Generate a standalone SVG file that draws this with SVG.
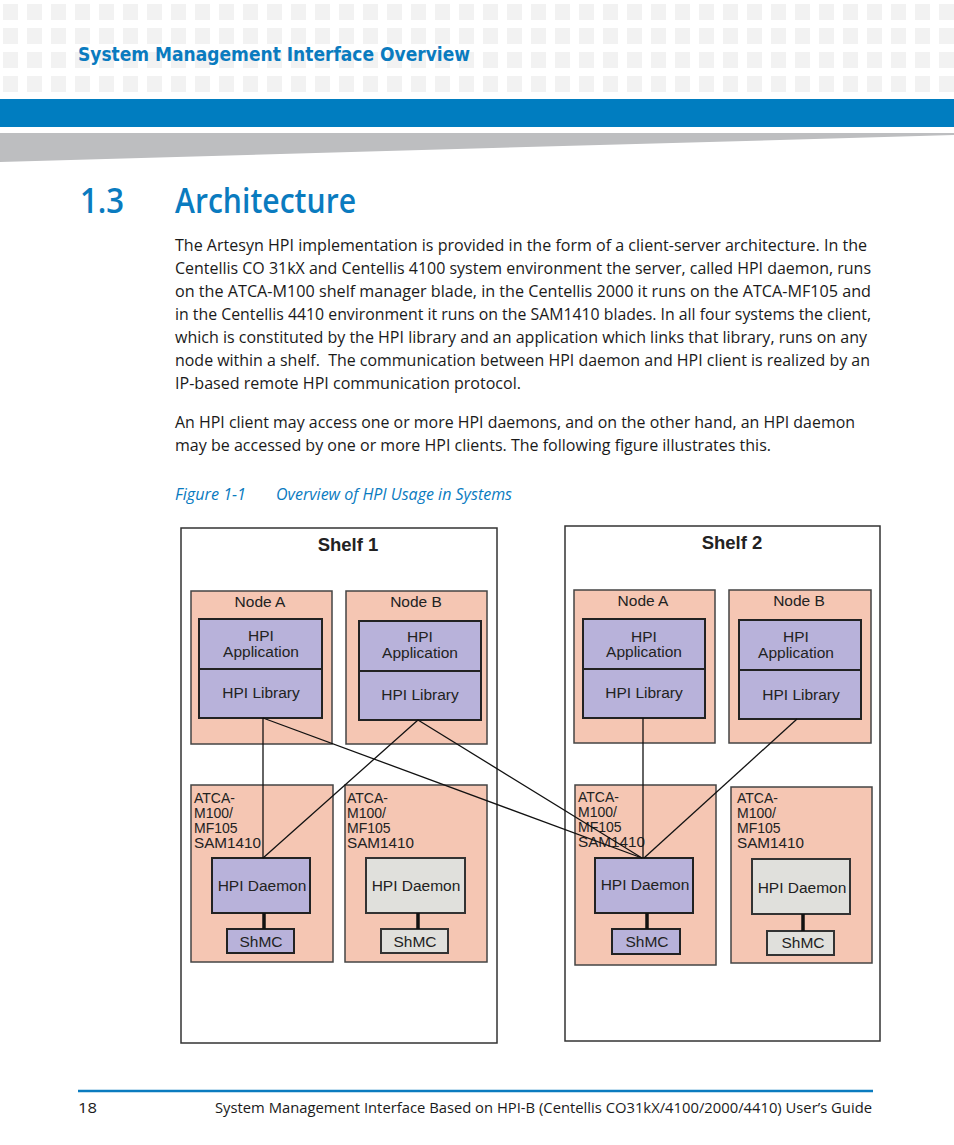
<svg xmlns="http://www.w3.org/2000/svg" width="954" height="1145" viewBox="0 0 954 1145">
<defs>
<pattern id="sq" x="3" y="4" width="24" height="24" patternUnits="userSpaceOnUse">
<rect width="15" height="16" fill="#f2f2f2"/>
</pattern>
<style>
.body{font-family:"Open Sans","Liberation Sans",sans-serif;font-size:16px;fill:#1a1a1a}
.cap{font-family:"Open Sans","Liberation Sans",sans-serif;font-size:16px;font-style:italic;fill:#0a7bbf}
.shelf{fill:#fff;stroke:#333;stroke-width:1.5}
.node{fill:#f5c6b3;stroke:#444;stroke-width:1.5}
.hpi{fill:#b8b2da;stroke:#222;stroke-width:2}
.gray{fill:#e0e0dc;stroke:#333;stroke-width:2}
.t{font-family:"Liberation Sans",Arial,sans-serif;font-size:15.5px;fill:#222;text-anchor:middle}
.tl{font-family:"Liberation Sans",Arial,sans-serif;font-size:14px;fill:#222}
.st{font-family:"Liberation Sans",Arial,sans-serif;font-size:18.5px;font-weight:bold;fill:#222;text-anchor:middle}
.ln{stroke:#111;stroke-width:1.3;fill:none}
.thick{stroke:#111;stroke-width:3.5;fill:none}
</style>
</defs>
<rect width="954" height="1145" fill="#fff"/>
<g id="header">
<rect x="0" y="0" width="954" height="94" fill="url(#sq)"/>
<text x="78" y="61" font-family="DejaVu Sans Condensed,'Liberation Sans',sans-serif" font-weight="bold" font-size="20" fill="#0a7bbf" textLength="392" lengthAdjust="spacingAndGlyphs">System Management Interface Overview</text>
<rect x="0" y="99" width="954" height="28" fill="#007dc0"/>
<polygon points="0,133 954,133 954,135 0,162" fill="#bdbec0"/>
</g>
<g id="title">
<text x="80" y="213" font-family="'Open Sans','Liberation Sans',sans-serif" font-weight="600" font-size="34" fill="#0a7bbf" textLength="44" lengthAdjust="spacingAndGlyphs">1.3</text>
<text x="175" y="213" font-family="'Open Sans','Liberation Sans',sans-serif" font-weight="600" font-size="34" fill="#0a7bbf" textLength="181" lengthAdjust="spacingAndGlyphs">Architecture</text>
</g>
<g id="text">
<text class="body" x="175" y="251" textLength="692" lengthAdjust="spacingAndGlyphs">The Artesyn HPI implementation is provided in the form of a client-server architecture. In the</text>
<text class="body" x="175" y="274" textLength="696" lengthAdjust="spacingAndGlyphs">Centellis CO 31kX and Centellis 4100 system environment the server, called HPI daemon, runs</text>
<text class="body" x="175" y="297" textLength="696" lengthAdjust="spacingAndGlyphs">on the ATCA-M100 shelf manager blade, in the Centellis 2000 it runs on the ATCA-MF105 and</text>
<text class="body" x="175" y="320" textLength="696" lengthAdjust="spacingAndGlyphs">in the Centellis 4410 environment it runs on the SAM1410 blades. In all four systems the client,</text>
<text class="body" x="175" y="343" textLength="692" lengthAdjust="spacingAndGlyphs">which is constituted by the HPI library and an application which links that library, runs on any</text>
<text class="body" x="175" y="366" textLength="695" lengthAdjust="spacingAndGlyphs" xml:space="preserve">node within a shelf.  The communication between HPI daemon and HPI client is realized by an</text>
<text class="body" x="175" y="389" textLength="346" lengthAdjust="spacingAndGlyphs">IP-based remote HPI communication protocol.</text>
<text class="body" x="175" y="428" textLength="680" lengthAdjust="spacingAndGlyphs">An HPI client may access one or more HPI daemons, and on the other hand, an HPI daemon</text>
<text class="body" x="175" y="451" textLength="596" lengthAdjust="spacingAndGlyphs">may be accessed by one or more HPI clients. The following figure illustrates this.</text>
<text class="cap" x="175" y="500" textLength="71" lengthAdjust="spacingAndGlyphs">Figure 1-1</text>
<text class="cap" x="276" y="500" textLength="236" lengthAdjust="spacingAndGlyphs">Overview of HPI Usage in Systems</text>
</g>
<g id="shelf1">
<rect class="shelf" x="181" y="528" width="316" height="515"/>
<text class="st" x="348" y="551">Shelf 1</text>
</g>
<g id="shelf2">
<rect class="shelf" x="565" y="526" width="315" height="515"/>
<text class="st" x="732" y="549">Shelf 2</text>
</g>
<g id="s1-nodeA">
<rect class="node" x="191" y="591" width="141" height="153"/>
<text class="t" x="260" y="607">Node A</text>
<rect class="hpi" x="199" y="619" width="123" height="99"/>
<line x1="199" y1="669" x2="322" y2="669" stroke="#222" stroke-width="2"/>
<text class="t" x="261" y="641">HPI</text>
<text class="t" x="261" y="657">Application</text>
<text class="t" x="261" y="698">HPI Library</text>
</g>
<g id="s1-nodeB">
<rect class="node" x="346" y="591" width="141" height="153"/>
<text class="t" x="416" y="607">Node B</text>
<rect class="hpi" x="359" y="621" width="122" height="99"/>
<line x1="359" y1="671" x2="481" y2="671" stroke="#222" stroke-width="2"/>
<text class="t" x="420" y="642">HPI</text>
<text class="t" x="420" y="658">Application</text>
<text class="t" x="420" y="700">HPI Library</text>
</g>
<g id="s2-nodeA">
<rect class="node" x="574" y="590" width="141" height="153"/>
<text class="t" x="643" y="606">Node A</text>
<rect class="hpi" x="583" y="619" width="122" height="99"/>
<line x1="583" y1="669" x2="705" y2="669" stroke="#222" stroke-width="2"/>
<text class="t" x="644" y="642">HPI</text>
<text class="t" x="644" y="657">Application</text>
<text class="t" x="644" y="698">HPI Library</text>
</g>
<g id="s2-nodeB">
<rect class="node" x="729" y="590" width="142" height="153"/>
<text class="t" x="799" y="606">Node B</text>
<rect class="hpi" x="739" y="620" width="122" height="99"/>
<line x1="739" y1="670" x2="861" y2="670" stroke="#222" stroke-width="2"/>
<text class="t" x="796" y="642">HPI</text>
<text class="t" x="796" y="658">Application</text>
<text class="t" x="801" y="700">HPI Library</text>
</g>
<g id="s1-atcaA">
<rect class="node" x="191" y="785" width="142" height="177"/>
<text class="tl" x="194" y="803">ATCA-</text>
<text class="tl" x="194" y="818">M100/</text>
<text class="tl" x="194" y="833">MF105</text>
<text class="tl" x="194" y="848" textLength="67" lengthAdjust="spacingAndGlyphs">SAM1410</text>
<rect class="hpi" x="212" y="858" width="98" height="55"/>
<text class="t" x="262" y="891">HPI Daemon</text>
<rect class="hpi" x="227" y="929" width="67" height="24"/>
<text class="t" x="261" y="947">ShMC</text>
</g>
<g id="s1-atcaB">
<rect class="node" x="345" y="785" width="142" height="177"/>
<text class="tl" x="347" y="803">ATCA-</text>
<text class="tl" x="347" y="818">M100/</text>
<text class="tl" x="347" y="833">MF105</text>
<text class="tl" x="347" y="848" textLength="67" lengthAdjust="spacingAndGlyphs">SAM1410</text>
<rect class="gray" x="366" y="858" width="99" height="55"/>
<text class="t" x="416" y="891">HPI Daemon</text>
<rect class="gray" x="381" y="929" width="67" height="24"/>
<text class="t" x="415" y="947">ShMC</text>
</g>
<g id="s2-atcaA">
<rect class="node" x="575" y="785" width="141" height="180"/>
<text class="tl" x="578" y="802">ATCA-</text>
<text class="tl" x="578" y="817">M100/</text>
<text class="tl" x="578" y="832">MF105</text>
<text class="tl" x="578" y="847" textLength="67" lengthAdjust="spacingAndGlyphs">SAM1410</text>
<rect class="hpi" x="595" y="858" width="98" height="55"/>
<text class="t" x="645" y="890">HPI Daemon</text>
<rect class="hpi" x="612" y="929" width="68" height="25"/>
<text class="t" x="647" y="947">ShMC</text>
</g>
<g id="s2-atcaB">
<rect class="node" x="731" y="787" width="141" height="176"/>
<text class="tl" x="737" y="803">ATCA-</text>
<text class="tl" x="737" y="818">M100/</text>
<text class="tl" x="737" y="833">MF105</text>
<text class="tl" x="737" y="848" textLength="67" lengthAdjust="spacingAndGlyphs">SAM1410</text>
<rect class="gray" x="752" y="859" width="98" height="55"/>
<text class="t" x="802" y="893">HPI Daemon</text>
<rect class="gray" x="767" y="931" width="67" height="24"/>
<text class="t" x="803" y="948">ShMC</text>
</g>
<g id="connectors">
<line class="ln" x1="263" y1="718" x2="263" y2="858"/>
<line class="ln" x1="263" y1="718" x2="642" y2="858"/>
<line class="ln" x1="418" y1="720" x2="263" y2="858"/>
<line class="ln" x1="418" y1="720" x2="642" y2="858"/>
<line class="ln" x1="643" y1="718" x2="643" y2="858"/>
<line class="ln" x1="797" y1="719" x2="644" y2="858"/>
<line class="thick" x1="264" y1="913" x2="264" y2="929"/>
<line class="thick" x1="418" y1="913" x2="418" y2="929"/>
<line class="thick" x1="647" y1="913" x2="647" y2="929"/>
<line class="thick" x1="803" y1="914" x2="803" y2="931"/>
</g>
<g id="footer">
<line x1="78" y1="1091" x2="873" y2="1091" stroke="#0a7bbf" stroke-width="2.5"/>
<text x="78" y="1113" font-family="'Open Sans','Liberation Sans',sans-serif" font-size="15" fill="#1a1a1a" textLength="19" lengthAdjust="spacingAndGlyphs">18</text>
<text x="215" y="1113" font-family="'Open Sans','Liberation Sans',sans-serif" font-size="15" fill="#1a1a1a" textLength="657" lengthAdjust="spacingAndGlyphs">System Management Interface Based on HPI-B (Centellis CO31kX/4100/2000/4410) User’s Guide</text>
</g>
</svg>
